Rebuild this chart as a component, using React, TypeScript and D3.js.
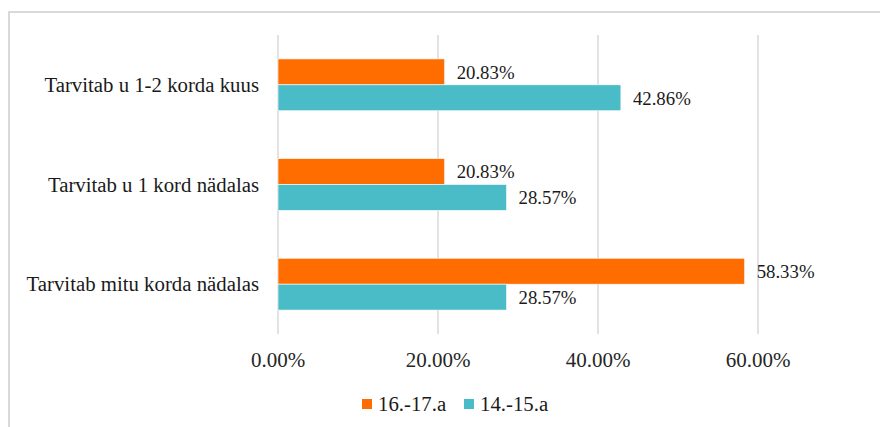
import React, { useEffect, useRef } from 'react';
import * as d3 from 'd3';

// Chart data
const categories = [
  'Tarvitab u 1-2 korda kuus',
  'Tarvitab u 1 kord nädalas',
  'Tarvitab mitu korda nädalas',
];
const seriesNames = ['16.-17.a', '14.-15.a'];
const values1617 = [20.83, 20.83, 58.33];
const values1415 = [42.86, 28.57, 28.57];
const tickValues = [0, 20, 40, 60];
const colors = ['#ff6d00', '#4abcc7'];

const App: React.FC = () => {
  const svgRef = useRef<SVGSVGElement>(null);

  useEffect(() => {
    if (!svgRef.current) return;
    const svg = d3.select(svgRef.current);
    svg.selectAll('*').remove();

    const W = 880;
    const H = 427;
    const font = 'Liberation Serif, Times New Roman, DejaVu Serif, serif';

    svg.attr('width', W).attr('height', H).attr('font-family', font);

    // chart frame (runs past the cropped right/bottom edges)
    svg.append('rect')
      .attr('x', 9)
      .attr('y', 12)
      .attr('width', W + 20)
      .attr('height', H + 20)
      .attr('fill', '#fff')
      .attr('stroke', '#d9d9d9')
      .attr('stroke-width', 2);

    // axis runs to 80%, which falls outside the visible area
    const x = d3.scaleLinear().domain([0, 80]).range([278, 918]);
    const y = d3.scaleBand<string>()
      .domain(categories)
      .range([35, 334])
      .paddingInner(0.48)
      .paddingOuter(0.24);
    const ySub = d3.scaleBand<string>()
      .domain(seriesNames)
      .range([0, y.bandwidth()]);

    // gridlines
    svg.append('g')
      .selectAll('line')
      .data(tickValues)
      .join('line')
      .attr('x1', d => x(d))
      .attr('x2', d => x(d))
      .attr('y1', 35)
      .attr('y2', 334)
      .attr('stroke', '#d9d9d9')
      .attr('stroke-width', 1.5);

    // tick labels
    svg.append('g')
      .selectAll('text')
      .data(tickValues)
      .join('text')
      .attr('x', d => x(d))
      .attr('y', 367)
      .attr('text-anchor', 'middle')
      .attr('font-size', 21)
      .attr('fill', '#262626')
      .text(d => d.toFixed(2) + '%');

    // category labels
    svg.append('g')
      .selectAll('text')
      .data(categories)
      .join('text')
      .attr('x', 259)
      .attr('y', d => y(d)! + y.bandwidth() / 2)
      .attr('dy', '0.34em')
      .attr('text-anchor', 'end')
      .attr('font-size', 20.8)
      .attr('fill', '#1a1a1a')
      .text(d => d);

    const seriesData = [values1617, values1415];

    seriesData.forEach((vals, si) => {
      const name = seriesNames[si];
      const rows = categories.map((c, i) => ({ cat: c, v: vals[i] }));
      const g = svg.append('g');

      g.selectAll('rect')
        .data(rows)
        .join('rect')
        .attr('x', x(0))
        .attr('y', d => y(d.cat)! + ySub(name)!)
        .attr('width', d => x(d.v) - x(0))
        .attr('height', ySub.bandwidth())
        .attr('fill', colors[si])
        .attr('stroke', '#fff')
        .attr('stroke-width', 0.6);

      g.selectAll('text')
        .data(rows)
        .join('text')
        .attr('x', d => x(d.v) + 12)
        .attr('y', d => y(d.cat)! + ySub(name)! + ySub.bandwidth() / 2)
        .attr('dy', '0.36em')
        .attr('font-size', 18.8)
        .attr('fill', '#1a1a1a')
        .text(d => d.v.toFixed(2) + '%');
    });

    // legend
    const legendX = [362, 464];
    const legend = svg.append('g');
    legend.selectAll('rect')
      .data(seriesNames)
      .join('rect')
      .attr('x', (d, i) => legendX[i])
      .attr('y', 399)
      .attr('width', 10)
      .attr('height', 10)
      .attr('fill', (d, i) => colors[i]);
    legend.selectAll('text')
      .data(seriesNames)
      .join('text')
      .attr('x', (d, i) => legendX[i] + 16)
      .attr('y', 411)
      .attr('font-size', 20.8)
      .attr('fill', '#1a1a1a')
      .text(d => d);
  }, []);

  return (
    <svg
      ref={svgRef}
      style={{ position: 'absolute', left: 0, top: 0, display: 'block' }}
    />
  );
};

export default App;
